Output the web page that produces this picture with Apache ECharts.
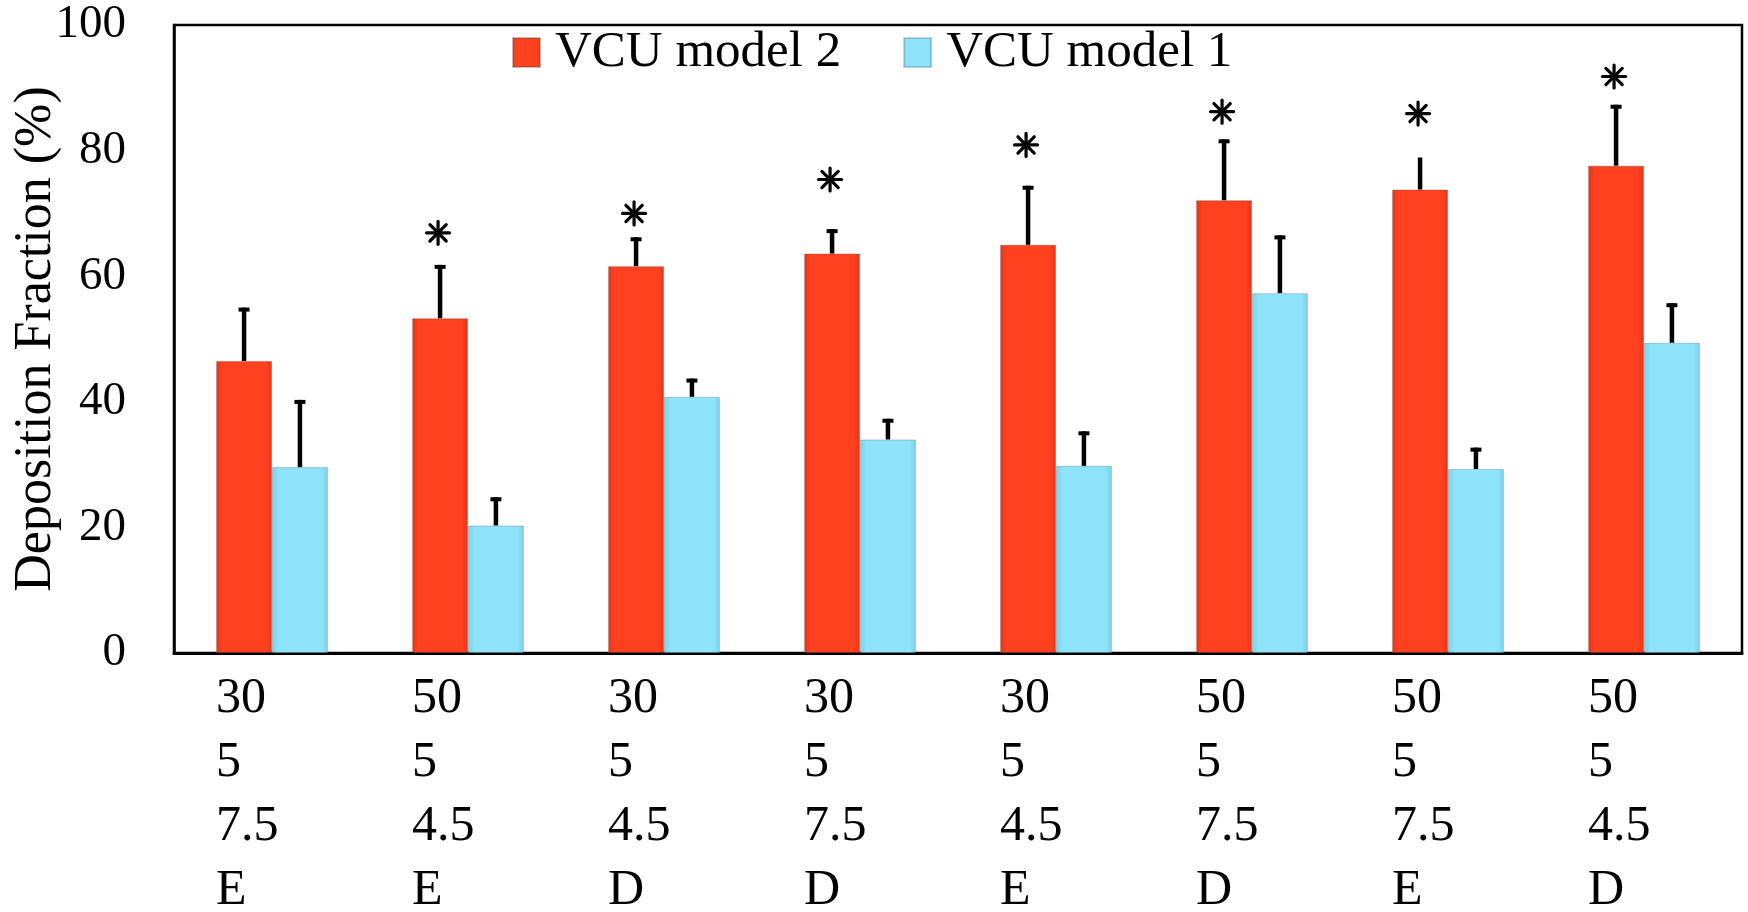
<!DOCTYPE html>
<html>
<head>
<meta charset="utf-8">
<script src="https://cdn.jsdelivr.net/npm/echarts@6/dist/echarts.min.js"></script>
<style>
html,body{margin:0;padding:0;background:#fff;}
#chart{width:1748px;height:912px;}
</style>
</head>
<body>
<div id="chart"></div>
<script>
// ---- data ----
var labelLine1 = ['30','50','30','30','30','50','50','50'];
var labelLine2 = ['5','5','5','5','5','5','5','5'];
var labelLine3 = ['7.5','4.5','4.5','7.5','4.5','7.5','7.5','4.5'];
var labelLine4 = ['E','E','D','D','E','D','E','D'];
var seriesNames = ['VCU model 2', 'VCU model 1'];
var model2 = [46.5, 53.3, 61.6, 63.6, 65.0, 72.1, 73.8, 77.6];
var model2Err = [8.5, 8.5, 4.6, 3.9, 9.4, 9.7, 5.1, 9.7];
var model2Cap = [1, 1, 1, 1, 1, 1, 0, 1];
var model1 = [29.6, 20.3, 40.8, 34.0, 29.8, 57.3, 29.3, 49.4];
var model1Err = [10.7, 4.5, 2.9, 3.3, 5.5, 9.2, 3.4, 6.3];
var model1Cap = [1, 1, 1, 1, 1, 1, 1, 1];
var asterisk = [null, 66.9, 70.0, 75.4, 80.9, 86.2, 85.9, 91.8];
var yTicks = [0, 20, 40, 60, 80, 100];

var categories = labelLine1.map(function (v, i) { return i; });

var FONT = '"Liberation Serif", "Times New Roman", serif';
var GAP = 0.43; // barCategoryGap

function errData(vals, errs, caps) {
  return vals.map(function (v, i) { return [i, v, errs[i], caps[i]]; });
}

function errRender(side) {
  return function (params, api) {
    var idx = api.value(0), v = api.value(1), e = api.value(2), cap = api.value(3);
    var band = api.size([1, 0])[0];
    var off = side * band * (1 - GAP) / 4;
    var p0 = api.coord([idx, v]);
    var p1 = api.coord([idx, v + e]);
    var x = p0[0] + off;
    var children = [{
      type: 'line',
      shape: { x1: x, y1: p0[1], x2: x, y2: p1[1] },
      style: { stroke: '#000', lineWidth: 4.5 }
    }];
    if (cap) {
      children.push({
        type: 'rect',
        shape: { x: x - 5.5, y: p1[1], width: 11, height: 4 },
        style: { fill: '#000' }
      });
    }
    return { type: 'group', children: children };
  };
}

function astRender(params, api) {
  var idx = api.value(0), v = api.value(1);
  var band = api.size([1, 0])[0];
  var off = -band * (1 - GAP) / 4;
  var p = api.coord([idx, v]);
  var cx = p[0] + off - 2, cy = p[1];
  var r = 11.5;
  var children = [];
  for (var k = 0; k < 4; k++) {
    var a = Math.PI / 2 + k * Math.PI / 4;
    children.push({
      type: 'line',
      shape: { x1: cx - r * Math.cos(a), y1: cy - r * Math.sin(a), x2: cx + r * Math.cos(a), y2: cy + r * Math.sin(a) },
      style: { stroke: '#000', lineWidth: 3.2, lineCap: 'round' }
    });
  }
  return { type: 'group', children: children };
}

var astData = [];
asterisk.forEach(function (v, i) { if (v !== null) astData.push([i, v]); });

function grad(edge, mid) {
  return new echarts.graphic.LinearGradient(0, 0, 1, 0, [
    { offset: 0, color: edge },
    { offset: 0.12, color: mid },
    { offset: 0.88, color: mid },
    { offset: 1, color: edge }
  ]);
}

var chart = echarts.init(document.getElementById('chart'), null, { renderer: 'canvas' });
chart.setOption({
  animation: false,
  backgroundColor: '#fff',
  grid: {
    left: 174, right: 6, top: 25, bottom: 259,
    containLabel: false,
    outerBoundsMode: 'none',
    show: true, borderColor: '#000', borderWidth: 2.5, backgroundColor: 'transparent'
  },
  legend: {
    data: seriesNames,
    left: 512,
    top: 27,
    padding: 0,
    itemWidth: 27,
    itemHeight: 29,
    itemGap: 62,
    icon: 'rect',
    textStyle: { fontFamily: FONT, fontSize: 51, color: '#000', padding: [0, 0, 0, 10] }
  },
  xAxis: {
    type: 'category',
    data: categories,
    axisTick: { show: false },
    axisLine: { lineStyle: { color: '#000', width: 3 } },
    axisLabel: {
      interval: 0,
      margin: 14,
      formatter: function (val, i) {
        return '{a|' + labelLine1[i] + '}\n{a|' + labelLine2[i] + '}\n{a|' + labelLine3[i] + '}\n{a|' + labelLine4[i] + '}';
      },
      rich: {
        a: { width: 112, align: 'left', fontFamily: FONT, fontSize: 50, lineHeight: 64, color: '#000' }
      }
    }
  },
  yAxis: {
    type: 'value',
    min: yTicks[0],
    max: yTicks[yTicks.length - 1],
    interval: 20,
    name: 'Deposition Fraction (%)',
    nameLocation: 'middle',
    nameRotate: 90,
    nameGap: 112,
    nameMoveOverlap: false,
    nameTextStyle: { fontFamily: FONT, fontSize: 52, color: '#000' },
    axisLine: { show: true, lineStyle: { color: '#000', width: 2.5 } },
    axisTick: { show: false },
    splitLine: { show: false },
    axisLabel: { fontFamily: FONT, fontSize: 47, color: '#000', margin: 48 }
  },
  series: [
    {
      name: seriesNames[0], type: 'bar', data: model2,
      barGap: '0%', barCategoryGap: (GAP * 100) + '%',
      itemStyle: { color: grad('#E2391B', '#FF4120'), borderColor: 'rgba(110,60,50,0.35)', borderWidth: 1 },
      z: 2
    },
    {
      name: seriesNames[1], type: 'bar', data: model1,
      barGap: '0%', barCategoryGap: (GAP * 100) + '%',
      itemStyle: { color: grad('#7DD0E8', '#8FE3FB'), borderColor: 'rgba(80,120,140,0.35)', borderWidth: 1 },
      z: 2
    },
    {
      type: 'custom', renderItem: errRender(-1), data: errData(model2, model2Err, model2Cap),
      encode: { x: 0, y: 1 }, z: 5, silent: true
    },
    {
      type: 'custom', renderItem: errRender(1), data: errData(model1, model1Err, model1Cap),
      encode: { x: 0, y: 1 }, z: 5, silent: true
    },
    {
      type: 'custom', renderItem: astRender, data: astData,
      encode: { x: 0, y: 1 }, z: 5, silent: true
    }
  ]
});
</script>
</body>
</html>
